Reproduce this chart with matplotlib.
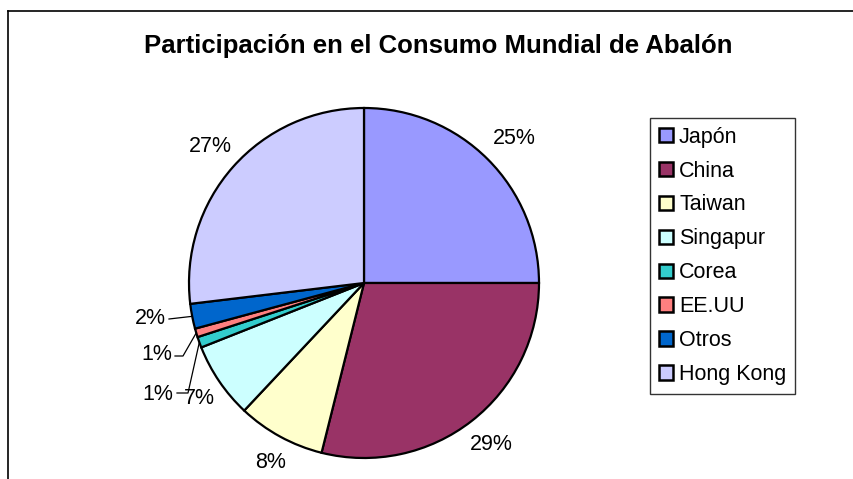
import numpy as np
import matplotlib
matplotlib.use('Agg')
import matplotlib.pyplot as plt
from matplotlib.lines import Line2D

plt.rcParams['font.family'] = ['Liberation Sans', 'DejaVu Sans']

# data
paises = ['Japón', 'China', 'Taiwan', 'Singapur', 'Corea', 'EE.UU', 'Otros', 'Hong Kong']
participacion = [25.0, 28.9, 8.1, 7.0, 1.0, 0.8, 2.3, 26.9]
etiquetas = ['25%', '29%', '8%', '7%', '1%', '1%', '2%', '27%']
colores = ['#9999FF', '#993366', '#FFFFCC', '#CCFFFF', '#33CCCC', '#FF8080', '#0066CC', '#CCCCFF']

W, H = 854, 479
fig = plt.figure(figsize=(W / 100, H / 100), dpi=100)
ax = fig.add_axes([0, 0, 1, 1])

cx, cy, R = 364, H - 283, 175
wedges, _ = ax.pie(participacion, colors=colores, startangle=90, counterclock=False,
                   center=(cx, cy), radius=R, frame=True,
                   wedgeprops=dict(edgecolor='black', linewidth=1.6))
ax.set_xlim(0, W)
ax.set_ylim(0, H)
ax.set_aspect('auto')
ax.axis('off')

# frame of the chart area (left and top edges visible)
fig.add_artist(Line2D([8 / W, 8 / W], [0, 1 - 11 / H], color='black', lw=1.2))
fig.add_artist(Line2D([8 / W, 1], [1 - 11 / H, 1 - 11 / H], color='black', lw=1.2))

ax.text(438, H - 46, 'Participación en el Consumo Mundial de Abalón',
        ha='center', va='center', fontsize=18.5, fontweight='bold')

fs = 15.5
# labels of the large slices, placed outside along the mid angle
dist = {0: 1.19, 1: 1.15, 2: 1.15, 7: 1.2}
for i, w in enumerate(wedges):
    if i in dist:
        mid = np.deg2rad((w.theta1 + w.theta2) / 2)
        r = R * dist[i]
        ax.text(cx + r * np.cos(mid) + 3, cy + r * np.sin(mid) - 3, etiquetas[i],
                ha='center', va='center', fontsize=fs)

def edge(i, frac=0.5):
    w = wedges[i]
    a = np.deg2rad(w.theta1 + (w.theta2 - w.theta1) * frac)
    return cx + R * np.cos(a), cy + R * np.sin(a)

# small slices with leader lines
ex, ey = edge(6)
ax.plot([ex, 169], [ey, H - 319], color='black', lw=0.9)
ax.text(166, H - 318, etiquetas[6], ha='right', va='center', fontsize=fs)

ex, ey = edge(5)
ax.plot([ex, 183, 175], [ey, H - 356, H - 356], color='black', lw=0.9)
ax.text(172, H - 354, etiquetas[5], ha='right', va='center', fontsize=fs)

ex, ey = edge(4)
ax.plot([ex, 188, 177], [ey, H - 393, H - 393], color='black', lw=0.9)
ax.text(173, H - 394, etiquetas[4], ha='right', va='center', fontsize=fs)

ax.text(199, H - 398, etiquetas[3], ha='center', va='center', fontsize=fs)

leg = ax.legend(wedges, paises, loc='upper left',
                bbox_to_anchor=(650 / W, 1 - 118 / H), bbox_transform=fig.transFigure,
                fontsize=fs, frameon=True, fancybox=False, edgecolor='black',
                handlelength=0.65, handleheight=0.65, handletextpad=0.3,
                labelspacing=0.6, borderpad=0.4, borderaxespad=0)
leg.get_frame().set_linewidth(1.0)
for h in leg.legend_handles:
    h.set_linewidth(1.8)

fig.savefig('out.png', dpi=100)
